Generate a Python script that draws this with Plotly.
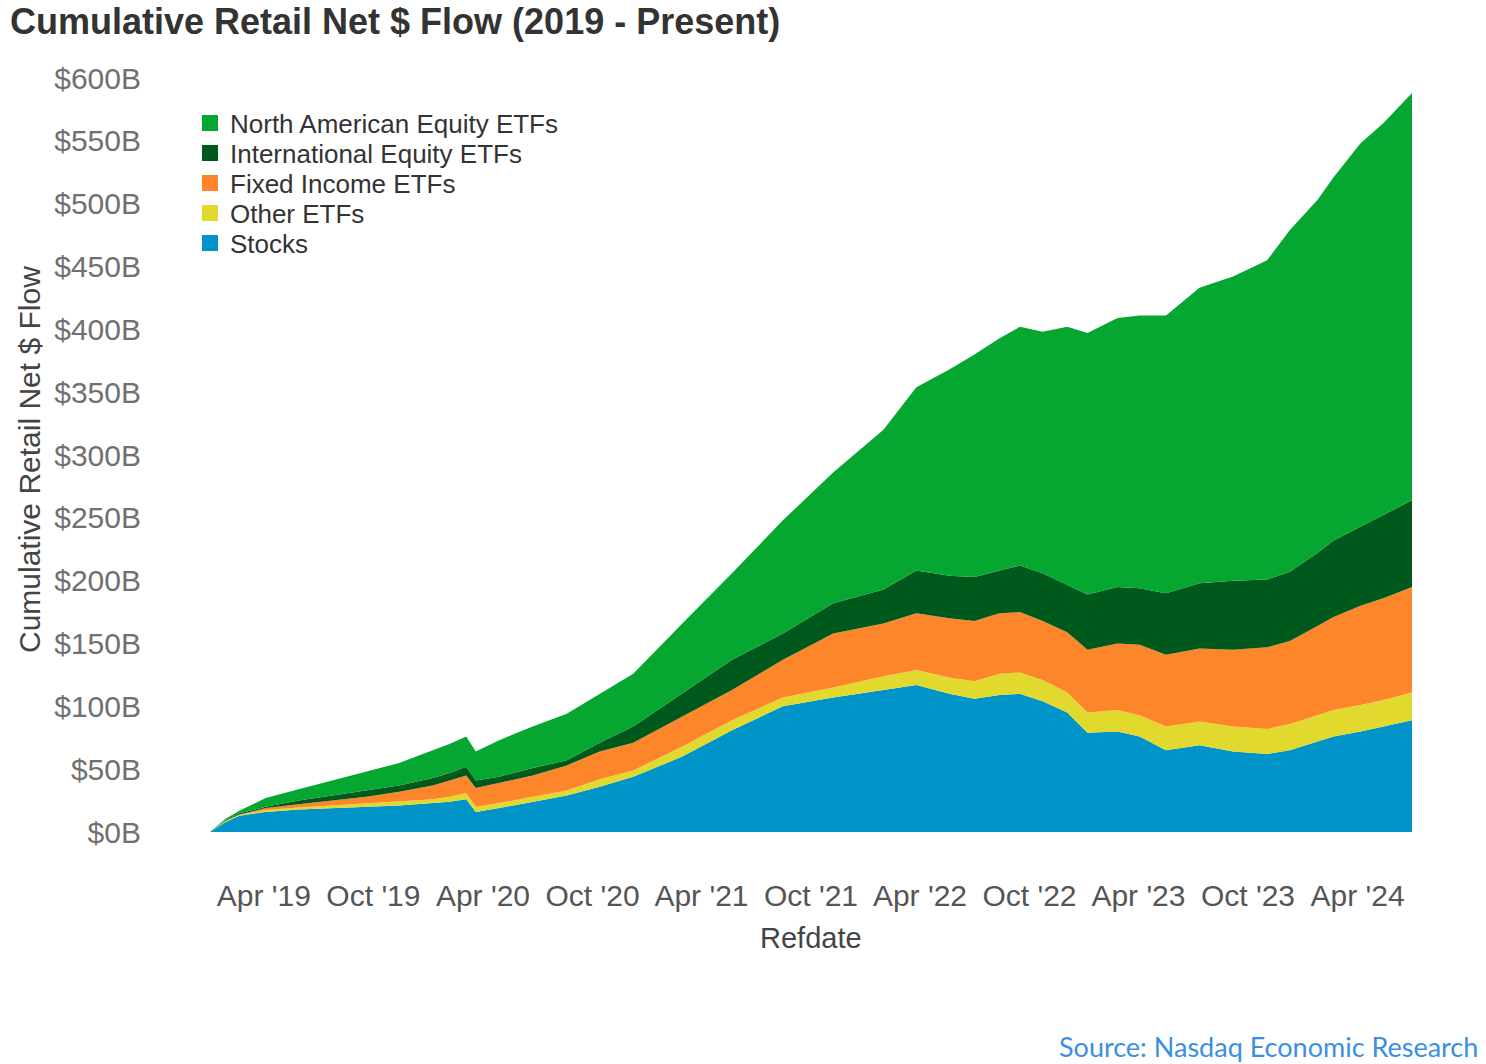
import plotly.graph_objects as go

dates = [
    "2019-01-01", "2019-01-27", "2019-02-19", "2019-04-04", "2019-05-29", "2019-07-23",
    "2019-09-19", "2019-11-13", "2020-01-08", "2020-02-05", "2020-03-04", "2020-03-20",
    "2020-04-28", "2020-06-23", "2020-08-19", "2020-10-13", "2020-12-08", "2021-02-28",
    "2021-05-22", "2021-08-15", "2021-11-07", "2022-01-30", "2022-03-26", "2022-05-20",
    "2022-07-01", "2022-08-12", "2022-09-15", "2022-10-23", "2022-12-03", "2023-01-06",
    "2023-02-25", "2023-04-03", "2023-05-17", "2023-07-12", "2023-09-06", "2023-11-02",
    "2023-12-10", "2024-01-25", "2024-02-21", "2024-04-06", "2024-05-14", "2024-07-01",
]

# values in $B, each series' own contribution (stacked in the chart)
stocks = [0, 8, 13, 16, 18, 19, 20, 21, 23, 24, 26, 16, 19, 24, 29, 36, 44, 60, 81, 100, 107,
          113, 117, 110, 106, 109, 110, 104, 95, 79, 80, 76, 65, 69, 64, 62, 65, 72, 76, 80, 84, 89]
other_etfs = [0, 0.5, 0.5, 1.5, 1.5, 2, 2.5, 3, 3, 4, 5, 4, 4, 4, 4, 6, 5, 8, 8, 7, 8,
              11, 12, 13, 14, 17, 17, 17, 16, 16, 17, 17, 19, 19, 20, 20, 21, 21, 21, 21, 21, 22]
fixed_income = [0, 0.5, 0.5, 1.5, 2.5, 4, 5.5, 8, 11, 13, 14, 15, 16, 17, 20, 22, 22, 24, 24, 30, 43,
                42, 45, 47, 48, 48, 48, 47, 48, 50, 53, 56, 57, 58, 61, 65, 66, 71, 74, 79, 81, 84]
intl_equity = [0, 0.5, 1, 1, 3, 4, 5, 5, 6, 6, 7, 6, 5, 6, 4, 7, 13, 18, 24, 21, 24,
               27, 34, 34, 35, 34, 37, 38, 38, 44, 45, 45, 49, 52, 55, 54, 55, 58, 61, 63, 66, 69]
na_equity = [0, 1, 2, 7, 9, 12, 15, 18, 22, 23, 24, 23, 29, 33, 37, 39, 42, 56, 69, 90, 104,
             127, 146, 164, 177, 185, 190, 192, 205, 208, 214, 217, 221, 235, 242, 254, 272, 281, 289, 305, 312, 324]

series_names = ["Stocks", "Other ETFs", "Fixed Income ETFs", "International Equity ETFs",
                "North American Equity ETFs"]
series_colors = ["#0094C9", "#E2D92F", "#FD852A", "#00591C", "#06A730"]
series_values = [stocks, other_etfs, fixed_income, intl_equity, na_equity]

tick_dates = ["2019-04-01", "2019-10-01", "2020-04-01", "2020-10-01", "2021-04-01", "2021-10-01",
              "2022-04-01", "2022-10-01", "2023-04-01", "2023-10-01", "2024-04-01"]
tick_labels = ["Apr '19", "Oct '19", "Apr '20", "Oct '20", "Apr '21", "Oct '21",
               "Apr '22", "Oct '22", "Apr '23", "Oct '23", "Apr '24"]
y_ticks = [0, 50, 100, 150, 200, 250, 300, 350, 400, 450, 500, 550, 600]
y_labels = ["$%dB" % v for v in y_ticks]

FONT = "Liberation Sans, Arial, sans-serif"

W, H = 1486, 1064
L, R, T, B = 210, 74, 78, 232
pw, ph = W - L - R, H - T - B


def px(x):
    return (x - L) / pw


def py(y):
    return (H - B - y) / ph


fig = go.Figure()
for name, color, vals in zip(series_names, series_colors, series_values):
    fig.add_trace(go.Scatter(
        x=dates, y=vals, name=name, mode="lines", stackgroup="one",
        line=dict(width=0, color=color), fillcolor=color, showlegend=False,
    ))

# legend entries (square swatches), one legend per row so rows sit 30px apart
legend_rows = {"North American Equity ETFs": 123, "International Equity ETFs": 153,
               "Fixed Income ETFs": 183, "Other ETFs": 213, "Stocks": 243}
legend_layouts = {}
for i, (name, color) in enumerate(zip(series_names, series_colors)):
    key = "legend" if i == 0 else "legend%d" % (i + 1)
    fig.add_trace(go.Scatter(
        x=[None], y=[None], name=name, mode="markers",
        marker=dict(symbol="square", size=16, color=color),
        showlegend=True, legend=key,
    ))
    legend_layouts[key] = dict(
        x=px(190), y=py(legend_rows[name]), xanchor="left", yanchor="middle",
        bgcolor="rgba(0,0,0,0)", borderwidth=0,
        font=dict(size=26, color="#333333", family=FONT),
    )

fig.update_layout(
    width=W, height=H,
    margin=dict(l=L, r=R, t=T, b=B, autoexpand=False),
    paper_bgcolor="white", plot_bgcolor="white",
    font=dict(family=FONT, color="#555555"),
    showlegend=True,
    xaxis=dict(
        type="date", range=["2019-01-01", "2024-07-01"],
        tickvals=tick_dates, ticktext=tick_labels,
        showgrid=False, zeroline=False, showline=False, ticks="",
        tickfont=dict(size=30, color="#555555"),
        ticklabelstandoff=43,
    ),
    yaxis=dict(
        range=[0, 600], tickvals=y_ticks, ticktext=y_labels,
        showgrid=False, zeroline=False, showline=False, ticks="",
        tickfont=dict(size=30, color="#707070"),
        ticklabelstandoff=68,
    ),
    annotations=[
        dict(text="<b>Cumulative Retail Net $ Flow (2019 - Present)</b>", xref="paper", yref="paper",
             x=px(8), y=py(22), xanchor="left", yanchor="middle", showarrow=False,
             font=dict(size=36, color="#333333", family=FONT)),
        dict(text="Cumulative Retail Net $ Flow", xref="paper", yref="paper",
             x=px(30), y=py(460), xanchor="center", yanchor="middle", textangle=-90,
             showarrow=False, font=dict(size=30, color="#444444", family=FONT)),
        dict(text="Refdate", xref="paper", yref="paper",
             x=px(811), y=py(938), xanchor="center", yanchor="middle",
             showarrow=False, font=dict(size=29, color="#444444", family=FONT)),
        dict(text="Source: Nasdaq Economic Research", xref="paper", yref="paper",
             x=px(1480), y=py(1046), xanchor="right", yanchor="middle",
             showarrow=False, font=dict(size=27, color="#3C8FE0", family="Lato, Carlito, sans-serif")),
    ],
)
fig.update_layout(**legend_layouts)

fig.write_html("out.html", config={"displayModeBar": False},
               post_script="document.body.style.margin='0px';")
